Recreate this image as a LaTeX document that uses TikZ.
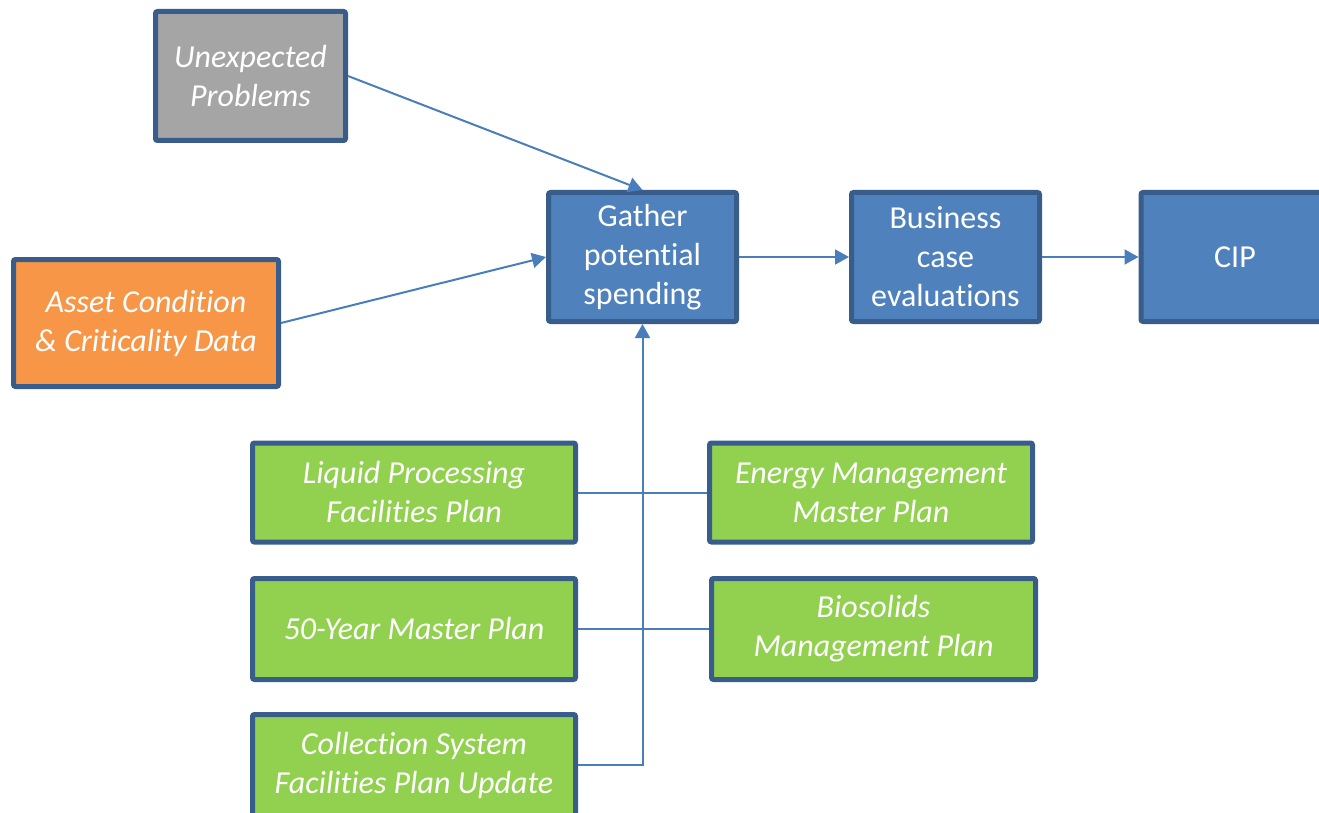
\documentclass[tikz,border=0pt]{standalone}
\usepackage{fontspec}
\setmainfont{Carlito}[Ligatures=NoCommon]
\usetikzlibrary{arrows.meta}
\definecolor{boxedge}{HTML}{385D8A}
\definecolor{stepblue}{HTML}{4F81BD}
\definecolor{linkblue}{HTML}{4A7EBB}
\definecolor{plangreen}{HTML}{92D050}
\definecolor{dataorange}{HTML}{F79646}
\definecolor{issuegray}{HTML}{A5A5A5}
\tikzset{
  card/.style={draw=boxedge, line width=5pt, rounded corners=2pt, text=white,
    align=center, inner sep=0pt, font=\fontsize{32}{39}\selectfont},
  italiccard/.style={card, font=\fontsize{32}{39}\selectfont\itshape},
  stepbox/.style={card, fill=stepblue, minimum width=188pt, minimum height=129pt},
  planbox/.style={italiccard, fill=plangreen, minimum width=323pt, minimum height=99pt},
  link/.style={draw=linkblue, line width=2pt},
  flow/.style={link, -{Triangle[length=14pt,width=15pt]}},
}
\begin{document}
\begin{tikzpicture}[x=1pt,y=-1pt]
  \useasboundingbox (0,0) rectangle (1319,813);
  \clip (0,0) rectangle (1319,813);

  % inputs
  \node[italiccard, fill=issuegray, minimum width=190pt, minimum height=129pt]
        (issues) at (250.5,76) {Unexpected\\Problems};
  \node[italiccard, fill=dataorange, minimum width=265pt, minimum height=127pt]
        (asset) at (146,323) {Asset Condition\\\& Criticality Data};

  % main process
  \node[stepbox] (gather) at (642.5,257) {Gather\\potential\\spending};
  \node[stepbox] (business) at (945.5,257) {Business\\case\\evaluations};
  \node[stepbox] (cip) at (1235,257) {CIP};

  % planning documents
  \node[planbox] (liquid) at (414,492.5) {Liquid Processing\\Facilities Plan};
  \node[planbox] (energy) at (871,492.5) {Energy Management\\Master Plan};
  \node[planbox, minimum height=101pt] (fifty) at (414,629) {50-Year Master Plan};
  \node[planbox, minimum width=324pt, minimum height=101pt] (bio) at (873.5,629)
        {Biosolids\\Management Plan};
  \node[planbox, minimum height=101pt] (collect) at (414,765)
        {Collection System\\Facilities Plan Update};

  % connectors
  \coordinate (junction) at (gather.south |- collect.east);
  \draw[link] (liquid.east) -- (energy.west);
  \draw[link] (fifty.east) -- (bio.west);
  \draw[flow] (collect.east) -- (junction) -- (gather.south);
  \draw[flow] (issues.east) -- (gather.north);
  \draw[flow] (asset.east) -- (gather.west);
  \draw[flow] (gather.east) -- (business.west);
  \draw[flow] (business.east) -- (cip.west);
\end{tikzpicture}
\end{document}
